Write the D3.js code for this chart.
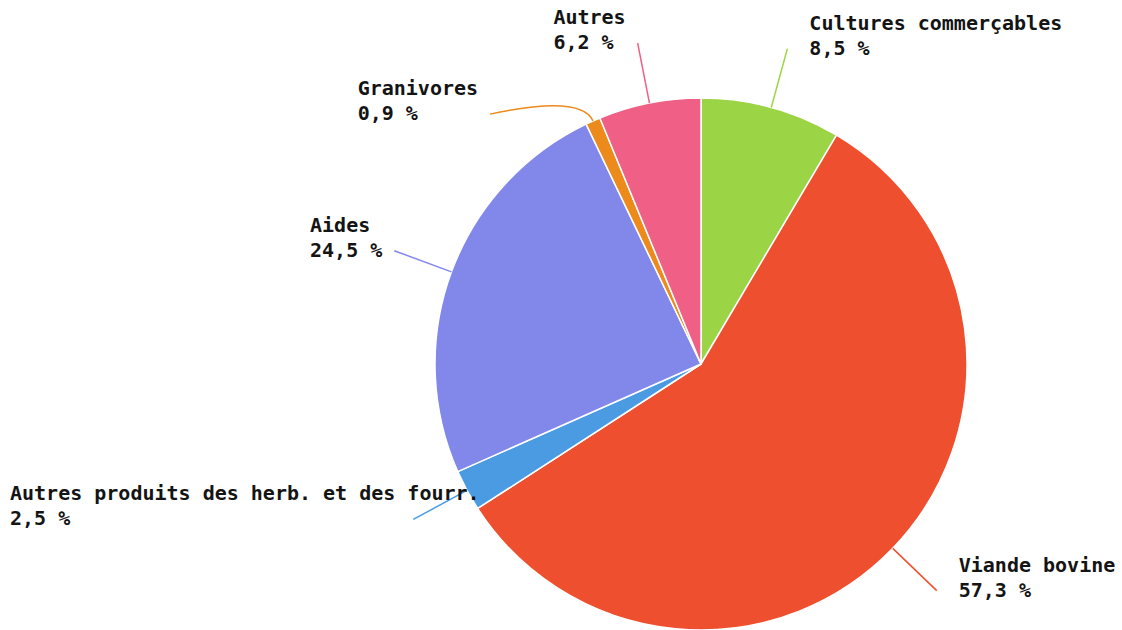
<!DOCTYPE html>
<html><head><meta charset="utf-8">
<script src="https://cdn.jsdelivr.net/npm/d3@7/dist/d3.min.js"></script>
<style>
html,body{margin:0;padding:0;background:#fff;}
svg{display:block;}
text{font-family:"DejaVu Sans Mono",monospace;font-weight:bold;font-size:20px;fill:#141414;}
</style></head>
<body><svg id="chart" width="1122" height="630"></svg>
<script>
const categories = ["Cultures commerçables","Viande bovine","Autres produits des herb. et des fourr.","Aides","Granivores","Autres"];
const values = [8.5, 57.3, 2.5, 24.5, 0.9, 6.2];
const valueLabels = ["8,5 %","57,3 %","2,5 %","24,5 %","0,9 %","6,2 %"];
const colors = ["#9bd545","#ee4f2e","#4b9be3","#8188e9","#ec8a1b","#f05f85"];

const W = 1122, H = 630;
const cx = 701, cy = 364, R = 266;
const labelR = 327;
const svg = d3.select("#chart");
const g = svg.append("g").attr("transform", `translate(${cx},${cy})`);

const data = categories.map((c,i)=>({name:c, value:values[i], label:valueLabels[i], color:colors[i]}));
const pie = d3.pie().sort(null).value(d=>d.value);
const arcs = pie(data);
const arc = d3.arc().innerRadius(0).outerRadius(R);

g.selectAll("path.slice").data(arcs).enter().append("path")
  .attr("class","slice")
  .attr("d", arc)
  .attr("fill", d=>d.data.color)
  .attr("stroke", "#fff")
  .attr("stroke-width", 1.5)
  .attr("stroke-linejoin","round");

// label angles with simple collision avoidance on each side
arcs.forEach(a => { a.mid = (a.startAngle + a.endAngle)/2; a.la = a.mid; });
const minGap = 29 * Math.PI/180;
const left = arcs.filter(a => a.mid > Math.PI).sort((a,b)=>b.mid-a.mid);
for (let i=1;i<left.length;i++){
  if (left[i-1].la - left[i].la < minGap) left[i].la = left[i-1].la - minGap;
}
const right = arcs.filter(a => a.mid <= Math.PI).sort((a,b)=>a.mid-b.mid);
for (let i=1;i<right.length;i++){
  if (right[i].la - right[i-1].la < minGap) right[i].la = right[i-1].la + minGap;
}

const pt = (ang, r) => [r*Math.sin(ang), -r*Math.cos(ang)];

arcs.forEach(a => {
  const s = pt(a.mid, R);
  const e = pt(a.la, labelR);
  const ux = Math.sin(a.mid), uy = -Math.cos(a.mid);
  const proj = e[0]*ux + e[1]*uy;
  const cr = R + 0.6*(proj - R);
  const c = pt(a.mid, cr);
  const p = d3.path();
  p.moveTo(s[0], s[1]);
  p.quadraticCurveTo(c[0], c[1], e[0], e[1]);
  g.append("path").attr("d", p.toString())
    .attr("fill","none").attr("stroke", a.data.color).attr("stroke-width",1.5);

  const isRight = a.la <= Math.PI;
  const t = g.append("text");
  t.append("tspan").text(a.data.name);
  t.append("tspan").text(a.data.label);
  const tmp = svg.append("text").text(a.data.name.length > a.data.label.length ? a.data.name : a.data.label);
  const bw = tmp.node().getComputedTextLength();
  tmp.remove();
  let x = isRight ? e[0] + 22 : e[0] - 12 - bw;
  if (cx + x < 10) x = 10 - cx;
  const y2 = e[1] + 6;
  t.selectAll("tspan").attr("x", x).attr("y", (d,i)=> i===0 ? y2 - 25 : y2);
});
</script></body></html>
